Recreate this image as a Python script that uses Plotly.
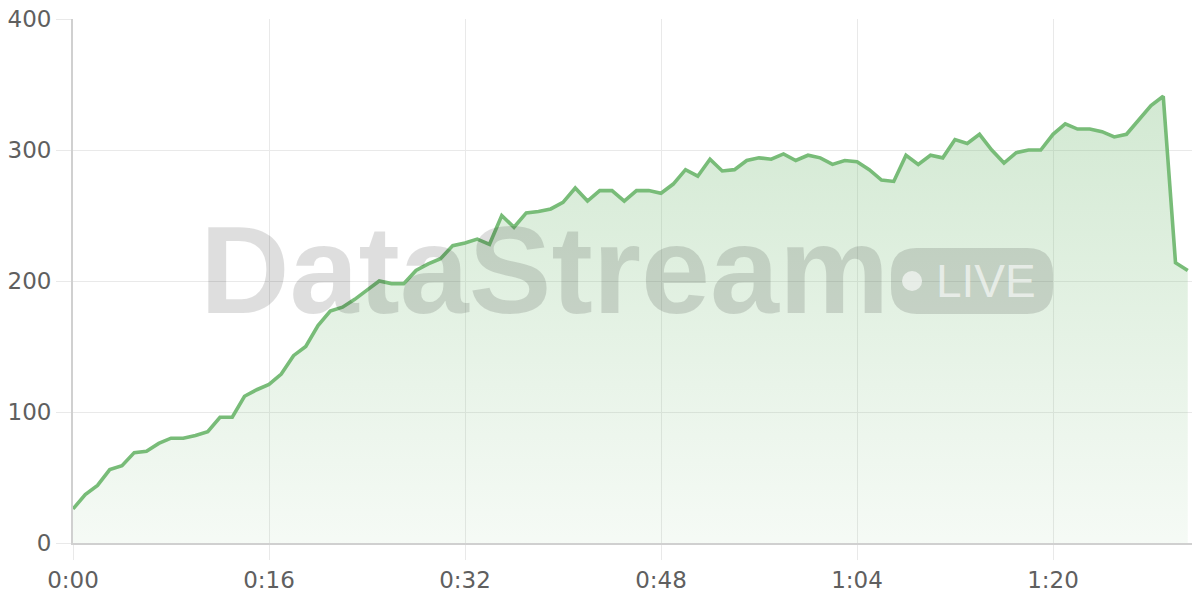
import plotly.graph_objects as go

# seconds since start, one sample per second
seconds = list(range(92))
viewers = [
    26, 37, 44, 56, 59, 69, 70, 76, 80, 80,
    82, 85, 96, 96, 112, 117, 121, 129, 143, 150,
    166, 177, 180, 186, 193, 200, 198, 198, 208, 213,
    217, 227, 229, 232, 228, 250, 241, 252, 253, 255,
    260, 271, 261, 269, 269, 261, 269, 269, 267, 274,
    285, 280, 293, 284, 285, 292, 294, 293, 297, 292,
    296, 294, 289, 292, 291, 285, 277, 276, 296, 289,
    296, 294, 308, 305, 312, 300, 290, 298, 300, 300,
    312, 320, 316, 316, 314, 310, 312, 323, 334, 341,
    214, 208,
]
tick_vals = [0, 16, 32, 48, 64, 80]
tick_text = ["0:00", "0:16", "0:32", "0:48", "1:04", "1:20"]

green = "#78bc78"
grid = "#e9e9e9"
axis_col = "#d0d0d0"
label_font = dict(family="DejaVu Sans", size=23, color="#5f5f5f")
wm = "rgba(0,0,0,0.13)"
wm_light = "rgba(255,255,255,0.6)"


def rounded_rect(x0, x1, y0, y1, rx, ry):
    return (f"M {x0 + rx},{y0} L {x1 - rx},{y0} Q {x1},{y0} {x1},{y0 + ry} "
            f"L {x1},{y1 - ry} Q {x1},{y1} {x1 - rx},{y1} "
            f"L {x0 + rx},{y1} Q {x0},{y1} {x0},{y1 - ry} "
            f"L {x0},{y0 + ry} Q {x0},{y0} {x0 + rx},{y0} Z")


fig = go.Figure()
fig.add_trace(go.Scatter(
    x=seconds, y=viewers, mode="lines",
    line=dict(color=green, width=3.6),
    fill="tozeroy",
    fillgradient=dict(
        type="vertical", start=0, stop=345,
        colorscale=[[0, "rgba(118,187,118,0.07)"], [1, "rgba(118,187,118,0.33)"]],
    ),
    hoverinfo="skip",
))

# watermark
fig.add_annotation(
    text="<b>DataStream</b>", xref="paper", yref="paper", x=0.418, y=0.521,
    xanchor="center", yanchor="middle", showarrow=False,
    font=dict(family="Liberation Sans", size=124, color=wm),
)
fig.add_shape(
    type="path", xref="paper", yref="paper",
    path=rounded_rect(0.7258, 0.8696, 0.437, 0.563, 0.023, 0.05),
    fillcolor=wm, line=dict(width=0), layer="above",
)
fig.add_shape(
    type="circle", xref="paper", yref="paper", x0=0.7356, x1=0.7534, y0=0.481, y1=0.519,
    fillcolor=wm_light, line=dict(width=0), layer="above",
)
fig.add_annotation(
    text="LIVE", xref="paper", yref="paper", x=0.7640, y=0.50,
    xanchor="left", yanchor="middle", showarrow=False,
    font=dict(family="Liberation Sans", size=46, color=wm_light),
)

# page body has an 8px margin, so the plot area is offset accordingly
fig.update_layout(
    width=1200, height=600,
    margin=dict(l=65, r=8, t=11, b=65),
    paper_bgcolor="white", plot_bgcolor="white",
    showlegend=False,
)
fig.update_xaxes(
    range=[0, 92], tickvals=tick_vals, ticktext=tick_text,
    showgrid=True, gridcolor=grid, gridwidth=1.3,
    ticks="outside", ticklen=15, tickcolor=grid, tickwidth=1.3,
    showline=True, linecolor=axis_col, linewidth=2,
    zeroline=False, tickfont=label_font, automargin=False,
    ticklabeloverflow="allow",
)
fig.update_yaxes(
    range=[0, 400], tickvals=[0, 100, 200, 300, 400],
    showgrid=True, gridcolor=grid, gridwidth=1.3,
    ticks="outside", ticklen=15, tickcolor=grid, tickwidth=1.3,
    showline=True, linecolor=axis_col, linewidth=2,
    zeroline=False, tickfont=label_font, automargin=False,
    ticklabeloverflow="allow",
)

fig.write_html("out.html")
